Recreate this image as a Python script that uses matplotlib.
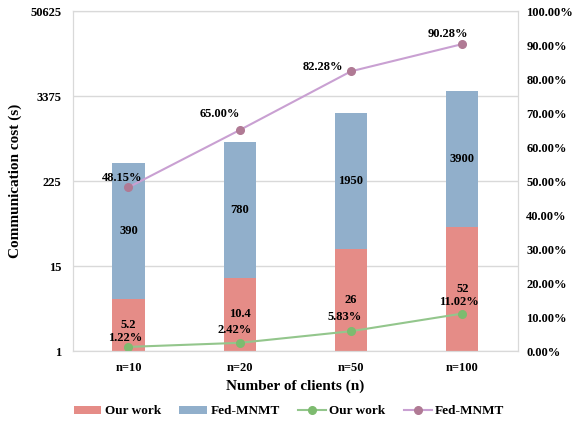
import numpy as np
import matplotlib.pyplot as plt
from matplotlib.ticker import FixedLocator, FuncFormatter

plt.rcParams['font.family'] = ['Liberation Serif', 'DejaVu Serif']
plt.rcParams['font.weight'] = 'bold'

# Data
clients = ['n=10', 'n=20', 'n=50', 'n=100']
our_cost = [5.2, 10.4, 26, 52]
fed_cost = [390, 780, 1950, 3900]
our_pct = [1.22, 2.42, 5.83, 11.02]
fed_pct = [48.15, 65.00, 82.28, 90.28]
left_ticks = [1, 15, 225, 3375, 50625]

# label offsets (pixels) for the line labels, as placed in the original
our_off = [(-3, 9), (-5, 13), (-6, 14), (-3, 12)]
fed_off = [(-6, 9), (-20, 16), (-28, 4), (-14, 10)]

red = '#E58C87'
blue = '#91AFCB'
green_line = '#93C68C'
green_mk = '#7DBB6F'
purple_line = '#C9A0D2'
purple_mk = '#B07A94'

fig, ax = plt.subplots(figsize=(5.78, 4.25), dpi=100)
fig.subplots_adjust(left=0.126, right=0.896, top=0.974, bottom=0.174)

x = np.arange(len(clients))
w = 0.29
b1 = ax.bar(x, np.array(our_cost) - 1, w, bottom=1, color=red, label='Our work', zorder=2)
b2 = ax.bar(x, fed_cost, w, bottom=our_cost, color=blue, label='Fed-MNMT', zorder=2)

ax.set_yscale('log')
ax.set_ylim(1, 50625)
ax.yaxis.set_major_locator(FixedLocator(left_ticks))
ax.yaxis.set_minor_locator(FixedLocator([]))
ax.yaxis.set_major_formatter(FuncFormatter(lambda v, p: f'{int(round(v))}'))
ax.set_xlim(-0.5, len(clients) - 0.5)
ax.set_xticks(x)
ax.set_xticklabels(clients)
ax.grid(axis='y', color='#D9D9D9', linewidth=1, zorder=0)
ax.tick_params(length=0, labelsize=9, pad=8)
for s in ax.spines.values():
    s.set_color('#D9D9D9')
ax.set_ylabel('Communication cost (s)', fontsize=11, fontweight='bold', labelpad=6)
ax.set_xlabel('Number of clients (n)', fontsize=11, fontweight='bold', labelpad=4)

# bar value labels at geometric centre of each segment
for i in range(len(clients)):
    ax.text(x[i], np.sqrt(our_cost[i]), f'{our_cost[i]:g}', ha='center', va='center',
            fontsize=9, fontweight='bold', zorder=5)
    top = our_cost[i] + fed_cost[i]
    ax.text(x[i], np.sqrt(our_cost[i] * top), f'{fed_cost[i]:g}', ha='center', va='center',
            fontsize=9, fontweight='bold', zorder=5)

ax2 = ax.twinx()
ax2.set_ylim(0, 100)
ax2.set_yticks(np.arange(0, 101, 10))
ax2.yaxis.set_major_formatter(FuncFormatter(lambda v, p: f'{v:.2f}%'))
ax2.tick_params(length=0, labelsize=9, pad=6)
for s in ax2.spines.values():
    s.set_color('#D9D9D9')
l1, = ax2.plot(x, our_pct, color=green_line, linewidth=1.5, marker='o', markersize=5.5,
               markerfacecolor=green_mk, markeredgecolor=green_mk, label='Our work')
l2, = ax2.plot(x, fed_pct, color=purple_line, linewidth=1.5, marker='o', markersize=5.5,
               markerfacecolor=purple_mk, markeredgecolor=purple_mk, label='Fed-MNMT')
for i in range(len(clients)):
    ax2.annotate(f'{our_pct[i]:.2f}%', (x[i], our_pct[i]), xytext=our_off[i],
                 textcoords='offset pixels', ha='center', va='center', fontsize=9, fontweight='bold')
    ax2.annotate(f'{fed_pct[i]:.2f}%', (x[i], fed_pct[i]), xytext=fed_off[i],
                 textcoords='offset pixels', ha='center', va='center', fontsize=9, fontweight='bold')

fig.legend([b1, b2, l1, l2], ['Our work', 'Fed-MNMT', 'Our work', 'Fed-MNMT'],
           loc='lower center', bbox_to_anchor=(0.5, -0.01), ncol=4, frameon=False,
           fontsize=9.5, handlelength=2.1, handleheight=0.6, columnspacing=1.4, handletextpad=0.25)

fig.savefig('out.png', dpi=100)
